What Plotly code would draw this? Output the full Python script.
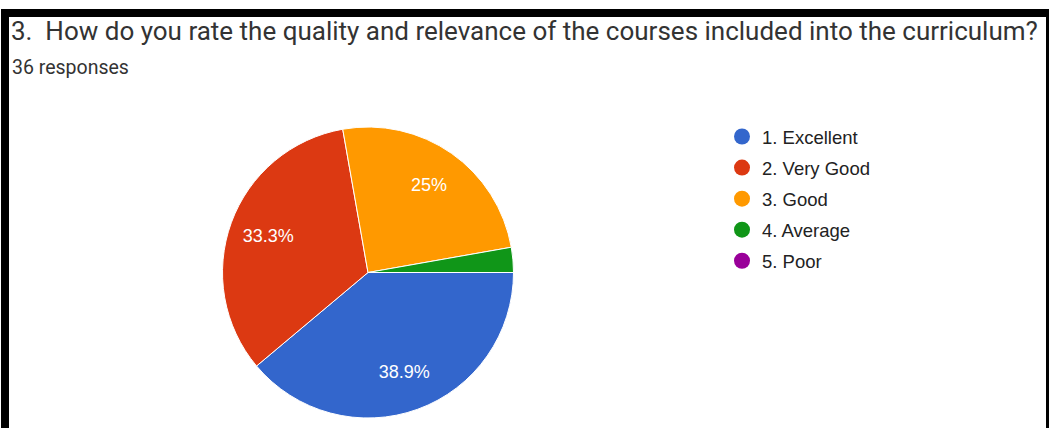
import plotly.graph_objects as go

# ---- data ----
categories = ["1. Excellent", "2. Very Good", "3. Good", "4. Average", "5. Poor"]
counts = [14, 12, 9, 1, 0]
colors = ["#3366cc", "#dc3912", "#ff9900", "#109618", "#990099"]
title_text = "3.  How do you rate the quality and relevance of the courses included into the curriculum?"
subtitle_text = "36 responses"

W, H = 1049, 428
total = sum(counts)


def pct_label(v):
    p = v / total * 100
    if p < 5:
        return ""
    s = f"{p:.1f}"
    if s.endswith(".0"):
        s = s[:-2]
    return s + "%"


labels_txt = [pct_label(v) for v in counts]
pie_domain = dict(x=[222 / W, 514 / W], y=[(H - 418) / H, (H - 127) / H])

fig = go.Figure()

# coloured slices
fig.add_trace(go.Pie(
    labels=categories,
    values=counts,
    textinfo="none",
    marker=dict(colors=colors, line=dict(color="white", width=1)),
    sort=False,
    direction="clockwise",
    rotation=90,
    showlegend=False,
    hoverinfo="label+percent",
    domain=pie_domain,
))

# transparent ring carrying the percentage labels (places them at ~0.73 r)
fig.add_trace(go.Pie(
    labels=categories,
    values=counts,
    hole=0.46,
    text=labels_txt,
    texttemplate="%{text}",
    textposition="inside",
    insidetextorientation="horizontal",
    textfont=dict(family="Liberation Sans, Arial", size=18, color="white"),
    marker=dict(colors=["rgba(0,0,0,0)"] * len(counts), line=dict(width=0)),
    sort=False,
    direction="clockwise",
    rotation=90,
    showlegend=False,
    hoverinfo="skip",
    domain=pie_domain,
))

# legend entries with circular markers
for name, c in zip(categories, colors):
    fig.add_trace(go.Scatter(
        x=[None], y=[None], mode="markers", name=name,
        legendgroup=name,
        marker=dict(symbol="circle", size=16, color=c),
    ))

fig.update_layout(
    width=W, height=H,
    margin=dict(l=0, r=0, t=0, b=0),
    paper_bgcolor="white",
    plot_bgcolor="white",
    xaxis=dict(visible=False),
    yaxis=dict(visible=False),
    title=dict(
        text=title_text,
        x=11 / W, xanchor="left", xref="paper",
        y=1 - 31 / H, yanchor="middle", yref="container",
        font=dict(family="Roboto", size=26, color="#333333"),
    ),
    legend=dict(
        x=722 / W, xanchor="left",
        y=1 - 118 / H, yanchor="top",
        font=dict(family="Liberation Sans, Arial", size=18.5, color="#222222"),
        tracegroupgap=4,
        bgcolor="rgba(0,0,0,0)",
    ),
    annotations=[dict(
        text=subtitle_text, xref="paper", yref="paper",
        x=10 / W, y=1 - 67 / H, xanchor="left", yanchor="middle",
        showarrow=False,
        font=dict(family="Roboto", size=19.5, color="#333333"),
    )],
    shapes=[
        # top border band
        dict(type="rect", xref="paper", yref="paper",
             x0=1 / W, x1=1, y0=1 - 17 / H, y1=1 - 9 / H,
             fillcolor="black", line=dict(width=0)),
        # left border band
        dict(type="rect", xref="paper", yref="paper",
             x0=1 / W, x1=9 / W, y0=0, y1=1 - 9 / H,
             fillcolor="black", line=dict(width=0)),
        # right border line
        dict(type="rect", xref="paper", yref="paper",
             x0=1046 / W, x1=1, y0=0, y1=1 - 9 / H,
             fillcolor="black", line=dict(width=0)),
    ],
)

fig.write_html(
    "out.html",
    config={"displayModeBar": False},
    post_script="document.body.style.margin='0px';document.body.style.overflow='hidden';",
)
